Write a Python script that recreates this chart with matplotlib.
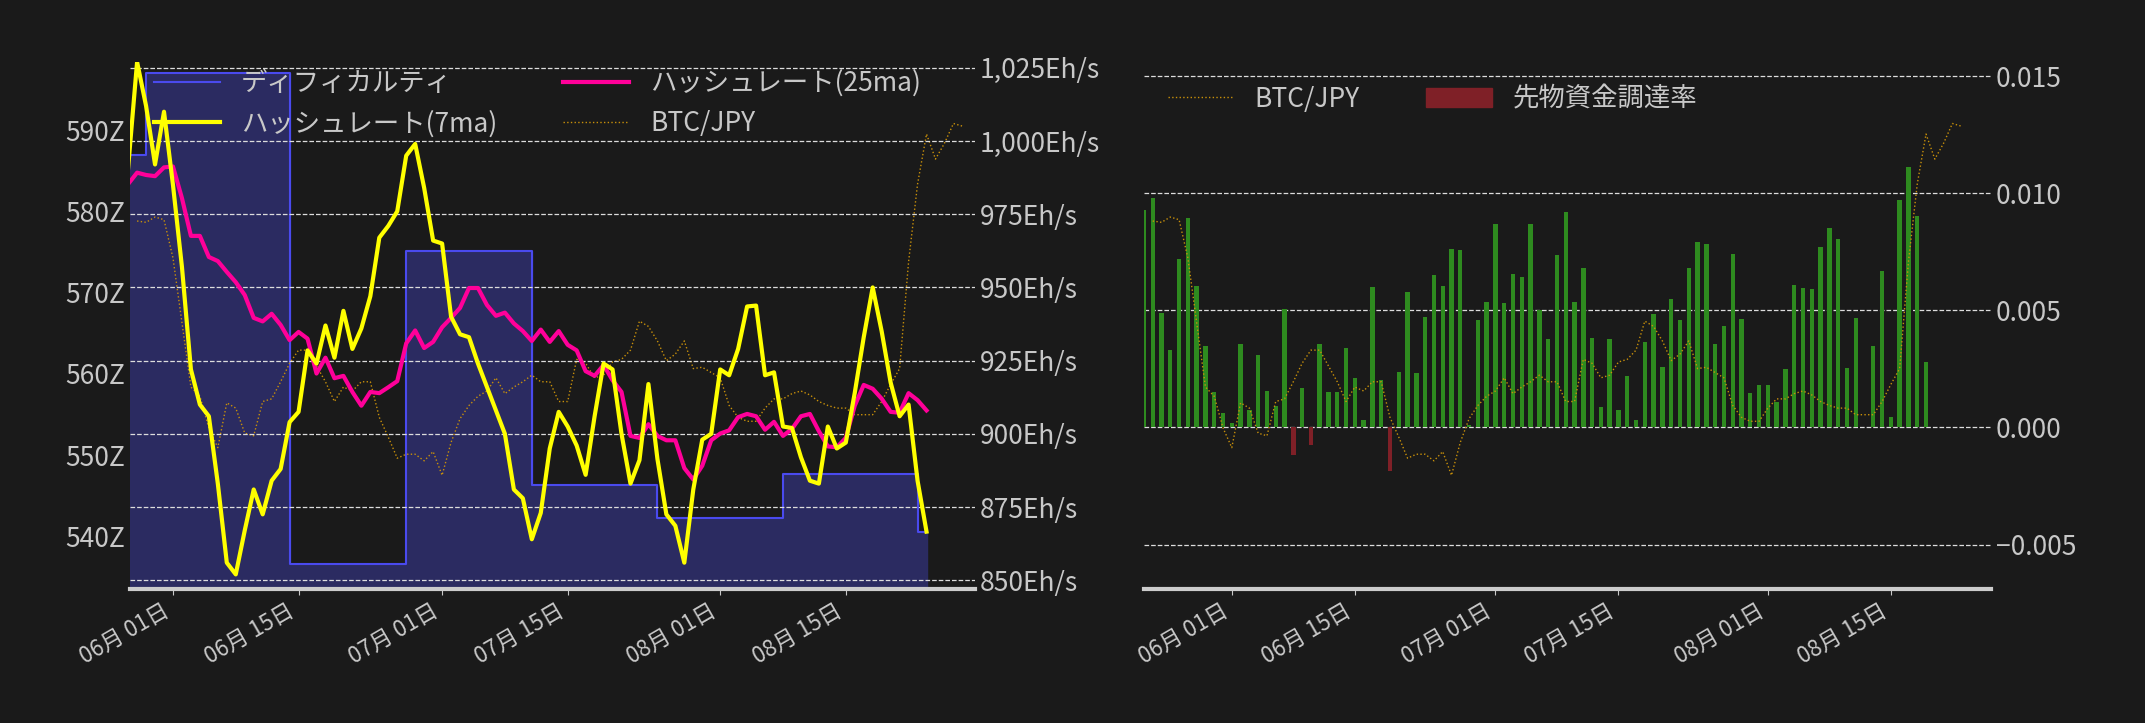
import matplotlib
matplotlib.use("Agg")
import matplotlib.pyplot as plt
import matplotlib.dates as mdates
from matplotlib.patches import Patch
from matplotlib.lines import Line2D
from matplotlib.ticker import FuncFormatter
import pandas as pd
import numpy as np

plt.rcParams['font.family'] = ['Noto Sans CJK JP', 'DejaVu Sans']

hash7 = [990.8, 1027, 1012, 992, 1010, 985, 957, 922, 910, 906, 883, 856, 852, 867, 881, 872.5, 884, 888, 904,
         907.5, 928.5, 924, 937, 926, 942, 929, 936, 947, 967, 971, 976, 995, 999, 984, 966, 965, 940, 934, 933,
         924, 916, 908, 900, 881, 878, 864, 873, 895, 907.5, 902.5, 896, 886, 906, 924, 922, 900, 883, 891, 917,
         891.5, 872.5, 868.6, 856, 881, 898, 900, 922, 920, 929, 943.5, 943.8, 920, 921, 902.5, 902, 892, 884,
         883, 902.5, 895, 897, 914, 933, 950, 935, 917.5, 906, 910, 884, 866.6]
hash25 = [985.3, 989.2, 988.4, 988, 991, 991.3, 980.5, 967.6, 967.6, 960.4, 959, 955.3, 951.8, 947.4, 939.6,
          938.4, 941, 937.2, 932, 934.8, 932.5, 920.6, 926, 919, 919.8, 914.3, 909.6, 914.3, 913.9, 915.9, 918,
          930.9, 935.3, 929.3, 931.4, 936.4, 939.6, 943, 949.8, 949.8, 944, 940.3, 941.4, 937.7, 935.1, 931.7,
          935.6, 931.4, 935.1, 930.4, 928.5, 921.4, 919.8, 923.5, 918.3, 914.3, 899.3, 898.6, 903.3, 899.3, 897.8,
          897.8, 888.3, 884.4, 889.1, 897.8, 900.1, 901.2, 905.7, 906.8, 906, 901.4, 904.1, 899.3, 901.7, 906,
          906.8, 900.9, 895.7, 895.4, 898.6, 909.6, 916.7, 915.4, 912, 907.5, 907.2, 913.9, 911.5, 908]
btc = [937, 936, 940, 938, 909, 860, 811, 804, 780, 765, 799, 795, 776, 774, 800, 802, 815, 829, 839, 839, 827,
       815, 800, 811, 808, 815, 815, 788, 773, 757, 760, 760, 755, 762, 744, 769, 787, 797, 804, 808, 818, 806,
       811, 815, 820, 815, 815, 800, 800, 832, 829, 818, 820, 830, 832, 839, 861, 857, 846, 831, 836, 846, 825,
       826, 822, 818, 797, 788, 785, 785, 795, 802, 802, 806, 808, 805, 800, 797, 795, 795, 790, 790, 790, 800,
       813, 825, 906, 965, 1003, 984, 996, 1011, 1009]
diff_dates = ['2023-05-27', '2023-05-29', '2023-06-14', '2023-06-27', '2023-07-11', '2023-07-25', '2023-08-08',
              '2023-08-23', '2023-08-24']
diff_vals = [586.9, 597.0, 536.6, 575.1, 546.25, 542.2, 547.7, 540.5, 540.5]
funding = [0.00927, 0.0098, 0.0049, 0.0033, 0.00717, 0.00892, 0.00602, 0.00346, 0.0015, 0.0006, 0.0002, 0.00358,
           0.00075, 0.00307, 0.00157, 0.0009, 0.00504, -0.00116, 0.00167, -0.00077, 0.00354, 0.00152, 0.00152,
           0.0034, 0.00209, 0.00031, 0.00598, 0.00201, -0.00185, 0.00238, 0.00577, 0.00232, 0.0047, 0.0065,
           0.00602, 0.0076, 0.00756, 0.0001, 0.00459, 0.00537, 0.0087, 0.00533, 0.00654, 0.00644, 0.0087, 0.005,
           0.00376, 0.00734, 0.00921, 0.00537, 0.00679, 0.0038, 0.00089, 0.00376, 0.00075, 0.00219, 0.0003,
           0.00366, 0.00484, 0.00258, 0.00547, 0.00459, 0.00681, 0.00793, 0.00785, 0.00356, 0.00431, 0.00742,
           0.00463, 0.00146, 0.00183, 0.00179, 0.00108, 0.00248, 0.0061, 0.00593, 0.00589, 0.00768, 0.0085,
           0.00803, 0.00252, 0.00465, 0.0, 0.00346, 0.00669, 0.00045, 0.00972, 0.0111, 0.00904, 0.00278]

BG = '#1a1a1a'
TXT = '#c8c8c8'
d7 = pd.date_range('2023-05-27', periods=len(hash7))
d25 = pd.date_range('2023-05-27', periods=len(hash25))
dbtc = pd.date_range('2023-05-28', periods=len(btc))
dd = pd.to_datetime(diff_dates)
dfund = pd.date_range('2023-05-22', periods=len(funding))
dbtc2 = pd.date_range('2023-05-23', periods=len(btc))

fig = plt.figure(figsize=(21.45, 7.23), dpi=100, facecolor=BG)
ax = fig.add_axes([0.0606, 0.1853, 0.394, 0.729], facecolor=BG)
ax2 = ax.twinx()
ax3 = ax.twinx()

ax.fill_between(dd, diff_vals, 500, step='post', color='#2c2c66', alpha=0.95, zorder=1)
l_diff, = ax.plot(dd, diff_vals, drawstyle='steps-post', color='#4a4aee', lw=1.5, zorder=2)
ax.set_ylim(533.5, 598.4)
ax.set_yticks([540, 550, 560, 570, 580, 590])
ax.yaxis.set_major_formatter(FuncFormatter(lambda v, p: f'{int(v)}Z'))

l_btc, = ax3.plot(dbtc, btc, color='#c8900a', lw=1, ls=':')
ax3.set_ylim(657.7, 1057.7)
ax3.set_yticks([])
l7, = ax2.plot(d7, hash7, color='#ffff00', lw=3, zorder=5)
l25, = ax2.plot(d25, hash25, color='#ff0099', lw=3, zorder=4)
ax2.set_ylim(847, 1027)
ax2.set_yticks([850, 875, 900, 925, 950, 975, 1000, 1025])
ax2.yaxis.set_major_formatter(FuncFormatter(lambda v, p: f'{int(v):,}Eh/s'))
ax2.grid(True, axis='y', ls='--', color='#dddddd', lw=0.9)
ax2.set_zorder(3); ax3.set_zorder(2); ax.set_zorder(1)
ax2.patch.set_visible(False); ax3.patch.set_visible(False)
ax.set_xlim(pd.Timestamp('2023-05-27 05:00'), pd.Timestamp('2023-08-29 10:00'))

for a in (ax, ax2, ax3):
    for s in a.spines.values():
        s.set_visible(False)
ax.spines['bottom'].set_visible(True)
ax.spines['bottom'].set_color('#cccccc'); ax.spines['bottom'].set_linewidth(3)
ax.tick_params(axis='y', colors=TXT, labelsize=19, length=0)
ax2.tick_params(axis='y', colors=TXT, labelsize=19, length=0)

leg = ax2.legend([l_diff, l7, l25, l_btc], ['ディフィカルティ', 'ハッシュレート(7ma)', 'ハッシュレート(25ma)', 'BTC/JPY'],
                 ncol=2, loc='upper left', bbox_to_anchor=(0.0, 1.03), frameon=False, fontsize=19,
                 labelcolor=TXT, handlelength=2.5, columnspacing=2.5)

# right chart
bx = fig.add_axes([0.5333, 0.1853, 0.395, 0.729], facecolor=BG)
bx3 = bx.twinx()
cols = ['#2e8b1f' if v >= 0 else '#7f2027' for v in funding]
bx.bar(dfund, funding, width=0.5, color=cols, zorder=3)
bx.set_ylim(-0.0069, 0.0156)
bx.set_yticks([-0.005, 0, 0.005, 0.01, 0.015])
bx.yaxis.tick_right()
bx.yaxis.set_major_formatter(FuncFormatter(lambda v, p: f'{v:.3f}'.replace('-', '\u2212')))
bx.grid(True, axis='y', ls='--', color='#dddddd', lw=0.9)
bx.tick_params(axis='y', colors=TXT, labelsize=19, length=0)
lb2, = bx3.plot(dbtc2, btc, color='#c8900a', lw=1, ls=':')
bx3.set_ylim(657.7, 1057.7)
bx3.set_yticks([])
bx.set_zorder(2); bx3.set_zorder(3); bx3.patch.set_visible(False)
bx.set_xlim(pd.Timestamp('2023-05-22'), pd.Timestamp('2023-08-26 10:00'))
for a in (bx, bx3):
    for s in a.spines.values():
        s.set_visible(False)
bx.spines['bottom'].set_visible(True)
bx.spines['bottom'].set_color('#cccccc'); bx.spines['bottom'].set_linewidth(3)
bx3.legend([lb2, Patch(color='#7f2027')], ['BTC/JPY', '先物資金調達率'], ncol=2, loc='upper left',
           bbox_to_anchor=(0.0, 1.0), frameon=False, fontsize=19, labelcolor=TXT, handlelength=2.5,
           columnspacing=2.5)

ticks = pd.to_datetime(['2023-06-01', '2023-06-15', '2023-07-01', '2023-07-15', '2023-08-01', '2023-08-15'])
for a in (ax, bx):
    a.set_xticks(ticks)
    a.set_xticklabels([t.strftime('%m月 %d日') for t in ticks], rotation=30, ha='right', color=TXT, fontsize=16)
    a.tick_params(axis='x', length=4, colors=TXT)

fig.savefig('out.png', dpi=100, facecolor=BG)
